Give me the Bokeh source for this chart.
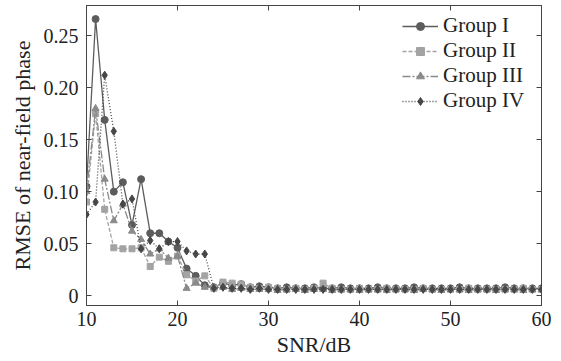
from bokeh.plotting import figure
from bokeh.models import LinearAxis, FixedTicker, Legend, LegendItem, Range1d
from bokeh.embed import file_html
from bokeh.resources import INLINE

snr = list(range(10, 61))

group1 = [0.105, 0.266, 0.169, 0.100, 0.109, 0.068, 0.112, 0.060, 0.060, 0.052,
          0.046, 0.026, 0.019, 0.010, 0.008, 0.012, 0.010, 0.011, 0.008, 0.009,
          0.008, 0.007, 0.008, 0.007, 0.007, 0.008, 0.007, 0.007, 0.008, 0.007,
          0.007, 0.007, 0.008, 0.007, 0.007, 0.007, 0.008, 0.007, 0.007, 0.007,
          0.007, 0.008, 0.007, 0.007, 0.007, 0.007, 0.008, 0.007, 0.007, 0.007,
          0.007]
group2 = [0.090, 0.175, 0.083, 0.046, 0.045, 0.045, 0.046, 0.028, 0.037, 0.033,
          0.038, 0.020, 0.014, 0.019, 0.007, 0.013, 0.012, 0.011, 0.008, 0.007,
          0.008, 0.007, 0.006, 0.007, 0.006, 0.007, 0.012, 0.007, 0.006, 0.006,
          0.007, 0.006, 0.006, 0.007, 0.006, 0.006, 0.006, 0.007, 0.006, 0.006,
          0.006, 0.006, 0.007, 0.006, 0.006, 0.006, 0.006, 0.006, 0.007, 0.006,
          0.006]
group3 = [0.100, 0.180, 0.112, 0.072, 0.088, 0.062, 0.054, 0.040, 0.045, 0.036,
          0.038, 0.007, 0.012, 0.008, 0.008, 0.008, 0.006, 0.007, 0.006, 0.006,
          0.006, 0.005, 0.006, 0.006, 0.005, 0.006, 0.006, 0.005, 0.006, 0.006,
          0.005, 0.006, 0.006, 0.005, 0.006, 0.006, 0.005, 0.006, 0.006, 0.005,
          0.006, 0.006, 0.005, 0.006, 0.006, 0.005, 0.006, 0.006, 0.005, 0.006,
          0.006]
group4 = [0.078, 0.090, 0.212, 0.158, 0.088, 0.093, 0.045, 0.053, 0.045, 0.052,
          0.052, 0.043, 0.040, 0.040, 0.007, 0.008, 0.007, 0.007, 0.006, 0.007,
          0.006, 0.006, 0.006, 0.006, 0.006, 0.006, 0.006, 0.006, 0.006, 0.006,
          0.006, 0.006, 0.006, 0.006, 0.006, 0.006, 0.006, 0.006, 0.006, 0.006,
          0.006, 0.006, 0.006, 0.006, 0.006, 0.006, 0.006, 0.006, 0.006, 0.006,
          0.006]

labels = ["Group I", "Group II", "Group III", "Group IV"]
y_ticks = [0, 0.05, 0.10, 0.15, 0.20, 0.25]
y_tick_labels = ["0", "0.05", "0.10", "0.15", "0.20", "0.25"]
x_ticks = [10, 20, 30, 40, 50, 60]

FONT = "Liberation Serif"
TICK_SIZE = "20px"
LABEL_SIZE = "22px"
LEGEND_SIZE = "21px"

p = figure(width=561, height=361, output_backend="svg", toolbar_location=None,
           x_range=Range1d(10, 60), y_range=Range1d(-0.0095, 0.279),
           min_border_left=86, min_border_right=20, min_border_top=5, min_border_bottom=56)
p.grid.visible = False
p.outline_line_color = "#444444"
p.background_fill_color = "white"
p.border_fill_color = "white"

styles = [
    dict(color="#5c5c5c", dash="solid", marker="circle", size=7),
    dict(color="#a3a3a3", dash="4 2", marker="square", size=6),
    dict(color="#8a8a8a", dash="8 2 2 2", marker="triangle", size=7),
    dict(color="#474747", dash="1 2", marker="diamond", size=8),
]
series = [group1, group2, group3, group4]

items = []
for lab, ys, st in zip(labels, series, styles):
    r1 = p.line(snr, ys, line_color=st["color"], line_width=1.3, line_dash=st["dash"])
    r2 = p.scatter(snr, ys, marker=st["marker"], size=st["size"],
                   fill_color=st["color"], line_color=st["color"])
    items.append(LegendItem(label=lab, renderers=[r1, r2]))

for ax in p.xaxis:
    ax.ticker = FixedTicker(ticks=x_ticks)
    ax.axis_label = "SNR/dB"
    ax.major_label_standoff = 6
    ax.axis_label_standoff = 3
for ax in p.yaxis:
    ax.ticker = FixedTicker(ticks=y_ticks)
    ax.major_label_overrides = {t: l for t, l in zip(y_ticks, y_tick_labels)}
    ax.axis_label = "RMSE of near-field phase"
    ax.major_label_standoff = 8
    ax.axis_label_standoff = 6

for ax in list(p.xaxis) + list(p.yaxis):
    ax.major_tick_in = 5
    ax.major_tick_out = 0
    ax.minor_tick_in = 0
    ax.minor_tick_out = 0
    ax.axis_line_color = "#444444"
    ax.major_tick_line_color = "#444444"
    ax.major_label_text_font = FONT
    ax.major_label_text_font_size = TICK_SIZE
    ax.major_label_text_color = "#222222"
    ax.axis_label_text_font = FONT
    ax.axis_label_text_font_size = LABEL_SIZE
    ax.axis_label_text_font_style = "normal"
    ax.axis_label_text_color = "#222222"

top_ax = LinearAxis(ticker=FixedTicker(ticks=x_ticks), major_label_text_font_size="0px",
                    major_label_text_color=None,
                    major_tick_in=5, major_tick_out=0, minor_tick_in=0, minor_tick_out=0,
                    axis_line_color="#444444", major_tick_line_color="#444444",
                    major_label_standoff=0)
right_ax = LinearAxis(ticker=FixedTicker(ticks=y_ticks), major_label_text_font_size="0px",
                      major_label_text_color=None,
                      major_tick_in=5, major_tick_out=0, minor_tick_in=0, minor_tick_out=0,
                      axis_line_color="#444444", major_tick_line_color="#444444",
                      major_label_standoff=0)
p.add_layout(top_ax, "above")
p.add_layout(right_ax, "right")

legend = Legend(items=items, location=(314, 190), background_fill_alpha=0,
                border_line_alpha=0, label_text_font=FONT, label_text_font_size=LEGEND_SIZE,
                label_text_color="#222222", glyph_width=36, glyph_height=20,
                label_height=20, spacing=0, label_standoff=5, padding=2, margin=0)
p.add_layout(legend)

open("out.html", "w").write(file_html(p, INLINE))
